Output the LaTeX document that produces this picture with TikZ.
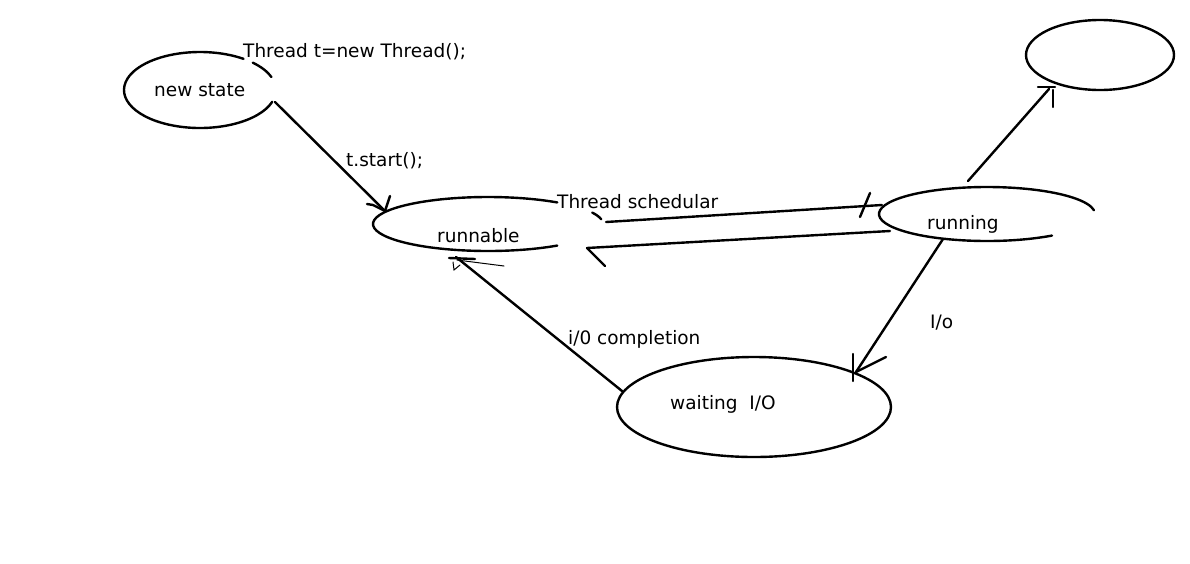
\documentclass[tikz,border=0pt]{standalone}
\usepackage{fontspec}
\setmainfont{DejaVu Sans}
\usetikzlibrary{shapes.geometric}
\tikzset{
  stroke/.style={line width=2.4pt, line cap=round, line join=round},
  thin stroke/.style={line width=1pt, line cap=round},
  lbl/.style={font=\fontsize{18.5}{22}\selectfont, inner sep=0pt, anchor=base west},
  state/.style={ellipse, inner sep=0pt},
}
\begin{document}
\begin{tikzpicture}[x=1pt, y=-1pt]
  \useasboundingbox[fill=white] (0,0) rectangle (1190,563);

  % states
  \node[state, minimum width=152, minimum height=76] (new) at (200,90) {};
  \node[state, minimum width=230, minimum height=54] (runnable) at (488,224) {};
  \node[state, minimum width=216, minimum height=54] (running) at (987,214) {};
  \node[state, draw, stroke, minimum width=148, minimum height=70] (dead) at (1100,55) {};
  \node[state, draw, stroke, minimum width=274, minimum height=100] (waiting) at (754,407) {};

  % broken outlines
  \draw[stroke] (new.center) ++(18:76 and 38) arc[start angle=18, end angle=305, x radius=76, y radius=38];
  \draw[stroke] (new.center) ++(314:76 and 38) arc[start angle=314, end angle=340, x radius=76, y radius=38];
  \draw[stroke] (runnable.center) ++(53:115 and 27) arc[start angle=53, end angle=307, x radius=115, y radius=27];
  \draw[stroke] (runnable.center) ++(335:115 and 27) arc[start angle=335, end angle=350, x radius=115, y radius=27];
  \draw[stroke] (running.center) ++(53:108 and 27) arc[start angle=53, end angle=352, x radius=108, y radius=27];

  % labels
  \node[lbl] (lnew) at (154,96) {new state};
  \node[lbl] (lthread) at (243,57) {Thread t=new Thread();};
  \node[lbl] (lstart) at (346,166) {t.start();};
  \node[lbl] (lrunnable) at (437,242) {runnable};
  \node[lbl] (lsched) at (557,208) {Thread schedular};
  \node[lbl] (lrunning) at (927,229) {running};
  \node[lbl] (lio) at (930,328) {I/o};
  \node[lbl] (lwaiting) at (670,409) {waiting\ \ I/O};
  \node[lbl] (lcompl) at (568,344) {i/0 completion};

  % connector endpoints
  \coordinate (c1a) at (275,102);
  \coordinate (c1b) at (385,211);
  \coordinate (c2a) at (606,222);
  \coordinate (c2b) at (882,205);
  \coordinate (c3a) at (890,231);
  \coordinate (c3b) at (587,248);
  \coordinate (c4a) at (968,181);
  \coordinate (c4b) at (1049,89);
  \coordinate (c5a) at (943,239);
  \coordinate (c5b) at (856,372);
  \coordinate (c6a) at (622,391);
  \coordinate (c6b) at (456,257);

  % new -> runnable
  \draw[stroke] (c1a) -- (c1b);
  \draw[stroke] (367,204) -- (373,205) -- (c1b);
  \draw[stroke] (390,196) -- (c1b);

  % runnable -> running
  \draw[stroke] (c2a) -- (c2b);
  \draw[stroke] (870,193) -- (860,217);

  % running -> runnable
  \draw[stroke] (c3a) -- (c3b);
  \draw[stroke] (c3b) -- (605,266);

  % running -> dead
  \draw[stroke] (c4a) -- (c4b);
  \draw[stroke] (1038,87) -- (1055,87);
  \draw[stroke] (1053,90) -- (1053,107);

  % running -> waiting
  \draw[stroke] (c5a) -- (c5b);
  \draw[stroke] (c5b) -- (886,357);
  \draw[stroke] (853,354) -- (853,381);

  % waiting -> runnable
  \draw[stroke] (c6a) -- (c6b);
  \draw[stroke] (449,258) -- (475,259);
  \draw[thin stroke] (457,260) -- (504,266);
  \draw[thin stroke] (453,262) -- (454,270) -- (460,265);
\end{tikzpicture}
\end{document}
